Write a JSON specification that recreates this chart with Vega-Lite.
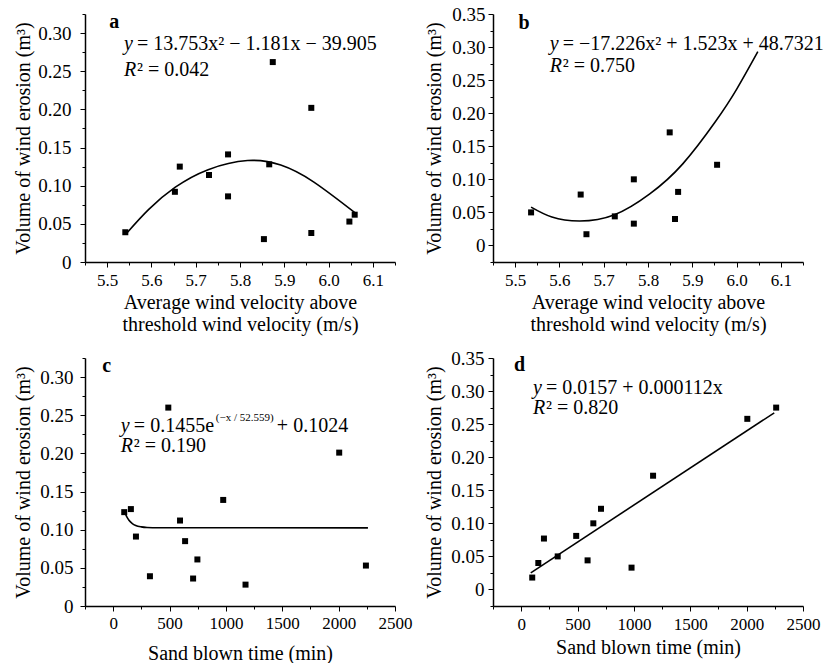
{
  "$schema": "https://vega.github.io/schema/vega-lite/v6.json",
  "padding": {"left": 13, "top": 5, "right": 0, "bottom": 0},
  "background": "white",
  "config": {
    "font": "Liberation Serif",
    "view": {"stroke": null},
    "axis": {
      "domainColor": "black", "domainWidth": 1.5, "tickColor": "black", "tickWidth": 1,
      "labelColor": "black", "titleColor": "black", "labelFont": "Liberation Serif", "titleFont": "Liberation Serif",
      "labelFontSize": 19, "titleFontSize": 20, "titleFontWeight": "normal", "grid": false,
      "labelOverlap": false, "labelFlush": false
    },
    "text": {"font": "Liberation Serif", "fontSize": 20, "color": "black"}
  },
  "datasets": {
    "a_pts": [
      {"velocity": 5.541, "erosion": 0.039}, {"velocity": 5.653, "erosion": 0.092}, {"velocity": 5.664, "erosion": 0.125},
      {"velocity": 5.730, "erosion": 0.114}, {"velocity": 5.773, "erosion": 0.141}, {"velocity": 5.773, "erosion": 0.086},
      {"velocity": 5.854, "erosion": 0.030}, {"velocity": 5.866, "erosion": 0.128}, {"velocity": 5.874, "erosion": 0.262},
      {"velocity": 5.961, "erosion": 0.202}, {"velocity": 5.961, "erosion": 0.038}, {"velocity": 6.047, "erosion": 0.053},
      {"velocity": 6.059, "erosion": 0.062}
    ],
    "a_fit": [
      {"velocity": 5.546, "erosion": 0.039}, {"velocity": 5.594, "erosion": 0.069}, {"velocity": 5.654, "erosion": 0.098},
      {"velocity": 5.728, "erosion": 0.121}, {"velocity": 5.817, "erosion": 0.133}, {"velocity": 5.892, "erosion": 0.127},
      {"velocity": 5.966, "erosion": 0.105}, {"velocity": 6.063, "erosion": 0.063}
    ],
    "b_pts": [
      {"velocity": 5.536, "erosion": 0.050}, {"velocity": 5.648, "erosion": 0.077}, {"velocity": 5.661, "erosion": 0.017},
      {"velocity": 5.725, "erosion": 0.044}, {"velocity": 5.768, "erosion": 0.100}, {"velocity": 5.768, "erosion": 0.033},
      {"velocity": 5.849, "erosion": 0.171}, {"velocity": 5.861, "erosion": 0.040}, {"velocity": 5.868, "erosion": 0.081},
      {"velocity": 5.956, "erosion": 0.122}
    ],
    "b_fit": [
      {"velocity": 5.536, "erosion": 0.058}, {"velocity": 5.583, "erosion": 0.043}, {"velocity": 5.645, "erosion": 0.037},
      {"velocity": 5.723, "erosion": 0.046}, {"velocity": 5.804, "erosion": 0.078}, {"velocity": 5.878, "erosion": 0.123},
      {"velocity": 5.952, "erosion": 0.187}, {"velocity": 6.000, "erosion": 0.236}, {"velocity": 6.048, "erosion": 0.293}
    ],
    "c_pts": [
      {"time": 98, "erosion": 0.123}, {"time": 157, "erosion": 0.127}, {"time": 202, "erosion": 0.091},
      {"time": 326, "erosion": 0.039}, {"time": 489, "erosion": 0.260}, {"time": 593, "erosion": 0.112},
      {"time": 638, "erosion": 0.085}, {"time": 709, "erosion": 0.036}, {"time": 747, "erosion": 0.061},
      {"time": 976, "erosion": 0.139}, {"time": 1174, "erosion": 0.028}, {"time": 2005, "erosion": 0.201},
      {"time": 2242, "erosion": 0.053}
    ],
    "c_fit": [
      {"time": 107, "erosion": 0.1214}, {"time": 120, "erosion": 0.1172}, {"time": 140, "erosion": 0.1125},
      {"time": 170, "erosion": 0.1081}, {"time": 200, "erosion": 0.1056}, {"time": 250, "erosion": 0.1037},
      {"time": 300, "erosion": 0.1029}, {"time": 400, "erosion": 0.1025}, {"time": 2260, "erosion": 0.1024}
    ],
    "d_pts": [
      {"time": 98, "erosion": 0.018}, {"time": 152, "erosion": 0.040}, {"time": 202, "erosion": 0.077},
      {"time": 324, "erosion": 0.050}, {"time": 488, "erosion": 0.081}, {"time": 589, "erosion": 0.044},
      {"time": 640, "erosion": 0.100}, {"time": 708, "erosion": 0.122}, {"time": 979, "erosion": 0.033},
      {"time": 1170, "erosion": 0.172}, {"time": 2006, "erosion": 0.258}, {"time": 2262, "erosion": 0.275}
    ],
    "d_fit": [
      {"time": 85, "erosion": 0.0252}, {"time": 2245, "erosion": 0.2671}
    ],
    "one": [{}]
  },
  "columns": 2,
  "spacing": {"row": 96, "column": 98},
  "bounds": "flush",
  "align": "all",
  "concat": [
    {
      "width": 310, "height": 248,
      "resolve": {"axis": {"x": "independent", "y": "independent"}},
      "layer": [
        {
          "data": {"name": "a_pts"},
          "mark": {"type": "point", "shape": "square", "filled": true, "size": 36, "color": "black", "opacity": 1},
          "encoding": {
            "x": {"field": "velocity", "type": "quantitative", "scale": {"domain": [5.45, 6.15], "nice": false, "zero": false},
              "axis": {"orient": "bottom", "values": [5.5, 5.6, 5.7, 5.8, 5.9, 6.0, 6.1], "format": ".1f", "tickSize": 5,
                "labelFontSize": 17, "labelPadding": 5, "title": ["Average wind velocity above", "threshold wind velocity (m/s)"],
                "titleLineHeight": 22, "titlePadding": 4}},
            "y": {"field": "erosion", "type": "quantitative", "scale": {"domain": [0, 0.325], "nice": false, "zero": false},
              "axis": {"orient": "left", "values": [0, 0.05, 0.1, 0.15, 0.2, 0.25, 0.3], "labelExpr": "datum.value == 0 ? '0' : format(datum.value, '.2f')",
                "tickSize": 5, "labelPadding": 9, "title": "Volume of wind erosion (m³)", "titlePadding": 4}}
          }
        },
        {
          "data": {"name": "a_fit"},
          "mark": {"type": "line", "color": "black", "strokeWidth": 1.6, "interpolate": "natural"},
          "encoding": {
            "x": {"field": "velocity", "type": "quantitative",
              "axis": {"orient": "bottom", "values": [5.45, 5.55, 5.65, 5.75, 5.85, 5.95, 6.05, 6.15], "labels": false, "domain": false, "tickSize": 3, "title": null}},
            "y": {"field": "erosion", "type": "quantitative",
              "axis": {"orient": "left", "values": [0.025, 0.075, 0.125, 0.175, 0.225, 0.275, 0.325], "labels": false, "domain": false, "tickSize": 3, "title": null}}
          }
        },
        {"data": {"name": "one"}, "mark": {"type": "text", "text": "a", "fontWeight": "bold", "align": "center", "baseline": "middle"},
          "encoding": {"x": {"datum": 5.516, "axis": null}, "y": {"datum": 0.315, "axis": null}}},
        {"data": {"name": "one"}, "mark": {"type": "text", "text": "y", "fontStyle": "italic", "align": "left", "baseline": "middle"},
          "encoding": {"x": {"datum": 5.538, "axis": null}, "y": {"datum": 0.286, "axis": null}}},
        {"data": {"name": "one"}, "mark": {"type": "text", "text": "= 13.753x² − 1.181x − 39.905", "align": "left", "baseline": "middle", "dx": 13},
          "encoding": {"x": {"datum": 5.538, "axis": null}, "y": {"datum": 0.286, "axis": null}}},
        {"data": {"name": "one"}, "mark": {"type": "text", "text": "R", "fontStyle": "italic", "align": "left", "baseline": "middle"},
          "encoding": {"x": {"datum": 5.538, "axis": null}, "y": {"datum": 0.252, "axis": null}}},
        {"data": {"name": "one"}, "mark": {"type": "text", "text": "² = 0.042", "align": "left", "baseline": "middle", "dx": 13},
          "encoding": {"x": {"datum": 5.538, "axis": null}, "y": {"datum": 0.252, "axis": null}}}
      ]
    },
    {
      "width": 310, "height": 248,
      "resolve": {"axis": {"x": "independent", "y": "independent"}},
      "layer": [
        {
          "data": {"name": "b_pts"},
          "mark": {"type": "point", "shape": "square", "filled": true, "size": 36, "color": "black", "opacity": 1},
          "encoding": {
            "x": {"field": "velocity", "type": "quantitative", "scale": {"domain": [5.45, 6.15], "nice": false, "zero": false},
              "axis": {"orient": "bottom", "values": [5.5, 5.6, 5.7, 5.8, 5.9, 6.0, 6.1], "format": ".1f", "tickSize": 5,
                "labelFontSize": 17, "labelPadding": 5, "title": ["Average wind velocity above", "threshold wind velocity (m/s)"],
                "titleLineHeight": 22, "titlePadding": 4}},
            "y": {"field": "erosion", "type": "quantitative", "scale": {"domain": [-0.025, 0.35], "nice": false, "zero": false},
              "axis": {"orient": "left", "values": [0, 0.05, 0.1, 0.15, 0.2, 0.25, 0.3, 0.35], "labelExpr": "datum.value == 0 ? '0' : format(datum.value, '.2f')",
                "tickSize": 5, "labelPadding": 3, "title": "Volume of wind erosion (m³)", "titlePadding": 7}}
          }
        },
        {
          "data": {"name": "b_fit"},
          "mark": {"type": "line", "color": "black", "strokeWidth": 1.6, "interpolate": "natural"},
          "encoding": {
            "x": {"field": "velocity", "type": "quantitative",
              "axis": {"orient": "bottom", "values": [5.45, 5.55, 5.65, 5.75, 5.85, 5.95, 6.05, 6.15], "labels": false, "domain": false, "tickSize": 3, "title": null}},
            "y": {"field": "erosion", "type": "quantitative",
              "axis": {"orient": "left", "values": [-0.025, 0.025, 0.075, 0.125, 0.175, 0.225, 0.275, 0.325], "labels": false, "domain": false, "tickSize": 3, "title": null}}
          }
        },
        {"data": {"name": "one"}, "mark": {"type": "text", "text": "b", "fontWeight": "bold", "align": "center", "baseline": "middle"},
          "encoding": {"x": {"datum": 5.52, "axis": null}, "y": {"datum": 0.336, "axis": null}}},
        {"data": {"name": "one"}, "mark": {"type": "text", "text": "y", "fontStyle": "italic", "align": "left", "baseline": "middle"},
          "encoding": {"x": {"datum": 5.578, "axis": null}, "y": {"datum": 0.305, "axis": null}}},
        {"data": {"name": "one"}, "mark": {"type": "text", "text": "= −17.226x² + 1.523x + 48.7321", "align": "left", "baseline": "middle", "dx": 13},
          "encoding": {"x": {"datum": 5.578, "axis": null}, "y": {"datum": 0.305, "axis": null}}},
        {"data": {"name": "one"}, "mark": {"type": "text", "text": "R", "fontStyle": "italic", "align": "left", "baseline": "middle"},
          "encoding": {"x": {"datum": 5.578, "axis": null}, "y": {"datum": 0.272, "axis": null}}},
        {"data": {"name": "one"}, "mark": {"type": "text", "text": "² = 0.750", "align": "left", "baseline": "middle", "dx": 13},
          "encoding": {"x": {"datum": 5.578, "axis": null}, "y": {"datum": 0.272, "axis": null}}}
      ]
    },
    {
      "width": 310, "height": 248,
      "resolve": {"axis": {"x": "independent", "y": "independent"}},
      "layer": [
        {
          "data": {"name": "c_pts"},
          "mark": {"type": "point", "shape": "square", "filled": true, "size": 36, "color": "black", "opacity": 1},
          "encoding": {
            "x": {"field": "time", "type": "quantitative", "scale": {"domain": [-250, 2500], "nice": false, "zero": false},
              "axis": {"orient": "bottom", "values": [0, 500, 1000, 1500, 2000, 2500], "format": "d", "tickSize": 5,
                "labelFontSize": 17, "labelPadding": 4, "title": "Sand blown time (min)", "titlePadding": 12}},
            "y": {"field": "erosion", "type": "quantitative", "scale": {"domain": [0, 0.325], "nice": false, "zero": false},
              "axis": {"orient": "left", "values": [0, 0.05, 0.1, 0.15, 0.2, 0.25, 0.3], "labelExpr": "datum.value == 0 ? '0' : format(datum.value, '.2f')",
                "tickSize": 5, "labelPadding": 7, "title": "Volume of wind erosion (m³)", "titlePadding": 6}}
          }
        },
        {
          "data": {"name": "c_fit"},
          "mark": {"type": "line", "color": "black", "strokeWidth": 1.6, "interpolate": "monotone"},
          "encoding": {
            "x": {"field": "time", "type": "quantitative",
              "axis": {"orient": "bottom", "values": [-250, 250, 750, 1250, 1750, 2250], "labels": false, "domain": false, "tickSize": 3, "title": null}},
            "y": {"field": "erosion", "type": "quantitative",
              "axis": {"orient": "left", "values": [0.025, 0.075, 0.125, 0.175, 0.225, 0.275, 0.325], "labels": false, "domain": false, "tickSize": 3, "title": null}}
          }
        },
        {"data": {"name": "one"}, "mark": {"type": "text", "text": "c", "fontWeight": "bold", "align": "center", "baseline": "middle"},
          "encoding": {"x": {"datum": -57, "axis": null}, "y": {"datum": 0.315, "axis": null}}},
        {"data": {"name": "one"}, "mark": {"type": "text", "text": "y", "fontStyle": "italic", "align": "left", "baseline": "middle"},
          "encoding": {"x": {"datum": 68, "axis": null}, "y": {"datum": 0.236, "axis": null}}},
        {"data": {"name": "one"}, "mark": {"type": "text", "text": "= 0.1455e", "align": "left", "baseline": "middle", "dx": 13},
          "encoding": {"x": {"datum": 68, "axis": null}, "y": {"datum": 0.236, "axis": null}}},
        {"data": {"name": "one"}, "mark": {"type": "text", "text": "(−x / 52.559)", "fontSize": 11, "align": "left", "baseline": "middle", "dx": 95, "dy": -8},
          "encoding": {"x": {"datum": 68, "axis": null}, "y": {"datum": 0.236, "axis": null}}},
        {"data": {"name": "one"}, "mark": {"type": "text", "text": "+ 0.1024", "align": "left", "baseline": "middle", "dx": 156},
          "encoding": {"x": {"datum": 68, "axis": null}, "y": {"datum": 0.236, "axis": null}}},
        {"data": {"name": "one"}, "mark": {"type": "text", "text": "R", "fontStyle": "italic", "align": "left", "baseline": "middle"},
          "encoding": {"x": {"datum": 68, "axis": null}, "y": {"datum": 0.21, "axis": null}}},
        {"data": {"name": "one"}, "mark": {"type": "text", "text": "² = 0.190", "align": "left", "baseline": "middle", "dx": 13},
          "encoding": {"x": {"datum": 68, "axis": null}, "y": {"datum": 0.21, "axis": null}}}
      ]
    },
    {
      "width": 310, "height": 248,
      "resolve": {"axis": {"x": "independent", "y": "independent"}},
      "layer": [
        {
          "data": {"name": "d_pts"},
          "mark": {"type": "point", "shape": "square", "filled": true, "size": 36, "color": "black", "opacity": 1},
          "encoding": {
            "x": {"field": "time", "type": "quantitative", "scale": {"domain": [-250, 2500], "nice": false, "zero": false},
              "axis": {"orient": "bottom", "values": [0, 500, 1000, 1500, 2000, 2500], "format": "d", "tickSize": 5,
                "labelFontSize": 17, "labelPadding": 5, "title": "Sand blown time (min)", "titlePadding": 5}},
            "y": {"field": "erosion", "type": "quantitative", "scale": {"domain": [-0.025, 0.35], "nice": false, "zero": false},
              "axis": {"orient": "left", "values": [0, 0.05, 0.1, 0.15, 0.2, 0.25, 0.3, 0.35], "labelExpr": "datum.value == 0 ? '0' : format(datum.value, '.2f')",
                "tickSize": 5, "labelPadding": 4, "title": "Volume of wind erosion (m³)", "titlePadding": 6}}
          }
        },
        {
          "data": {"name": "d_fit"},
          "mark": {"type": "line", "color": "black", "strokeWidth": 1.6},
          "encoding": {
            "x": {"field": "time", "type": "quantitative",
              "axis": {"orient": "bottom", "values": [-250, 250, 750, 1250, 1750, 2250], "labels": false, "domain": false, "tickSize": 3, "title": null}},
            "y": {"field": "erosion", "type": "quantitative",
              "axis": {"orient": "left", "values": [-0.025, 0.025, 0.075, 0.125, 0.175, 0.225, 0.275, 0.325], "labels": false, "domain": false, "tickSize": 3, "title": null}}
          }
        },
        {"data": {"name": "one"}, "mark": {"type": "text", "text": "d", "fontWeight": "bold", "align": "center", "baseline": "middle"},
          "encoding": {"x": {"datum": -14, "axis": null}, "y": {"datum": 0.34, "axis": null}}},
        {"data": {"name": "one"}, "mark": {"type": "text", "text": "y", "fontStyle": "italic", "align": "left", "baseline": "middle"},
          "encoding": {"x": {"datum": 104, "axis": null}, "y": {"datum": 0.3046, "axis": null}}},
        {"data": {"name": "one"}, "mark": {"type": "text", "text": "= 0.0157 + 0.000112x", "align": "left", "baseline": "middle", "dx": 13},
          "encoding": {"x": {"datum": 104, "axis": null}, "y": {"datum": 0.3046, "axis": null}}},
        {"data": {"name": "one"}, "mark": {"type": "text", "text": "R", "fontStyle": "italic", "align": "left", "baseline": "middle"},
          "encoding": {"x": {"datum": 104, "axis": null}, "y": {"datum": 0.274, "axis": null}}},
        {"data": {"name": "one"}, "mark": {"type": "text", "text": "² = 0.820", "align": "left", "baseline": "middle", "dx": 13},
          "encoding": {"x": {"datum": 104, "axis": null}, "y": {"datum": 0.274, "axis": null}}}
      ]
    }
  ]
}
